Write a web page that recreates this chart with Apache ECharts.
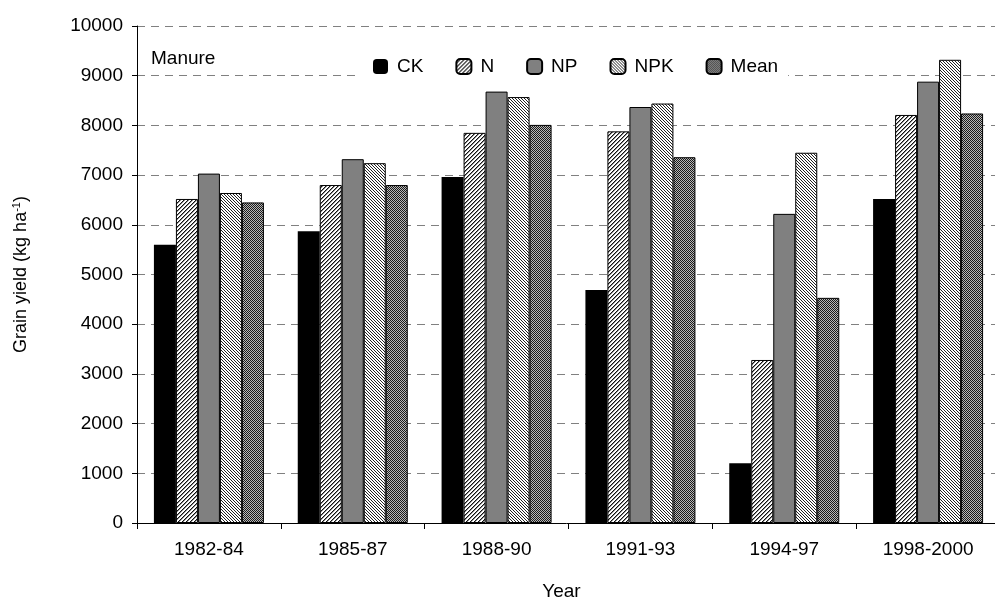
<!DOCTYPE html>
<html><head><meta charset="utf-8">
<script src="https://cdn.jsdelivr.net/npm/echarts@6/dist/echarts.min.js"></script>
<style>html,body{margin:0;padding:0;background:#fff}#c{width:995px;height:600px}</style>
</head><body><div id="c"></div>
<script>
const categories = ['1982-84','1985-87','1988-90','1991-93','1994-97','1998-2000'];
const seriesNames = ['CK','N','NP','NPK','Mean'];
const CK   = [5600, 5870, 6960, 4690, 1200, 6520];
const N    = [6520, 6800, 7850, 7880, 3280, 8210];
const NP   = [7030, 7320, 8680, 8370, 6220, 8880];
const NPK  = [6640, 7240, 8570, 8440, 7450, 9320];
const Mean = [6450, 6800, 8010, 7360, 4530, 8240];
const yTicks = [0,1000,2000,3000,4000,5000,6000,7000,8000,9000,10000];

function tile(size, fn){
  const c = document.createElement('canvas'); c.width = size; c.height = size;
  const g = c.getContext('2d');
  for(let x=0;x<size;x++) for(let y=0;y<size;y++){ g.fillStyle = fn(x,y); g.fillRect(x,y,1,1); }
  return {image: c, repeat: 'repeat'};
}
const patN = tile(4,(x,y)=> (x+y)%4===3 ? '#111' : ((x+y)%4===0 ? '#8a8a8a' : '#fff'));
const patNPK = tile(3,(x,y)=> ((x-y+3)%3===0) ? '#222' : '#fff');
const patMean = tile(2,(x,y)=> ((x+y)%2===0) ? '#1a1a1a' : '#b8b8b8');
const fills = ['#000000', patN, '#808080', patNPK, patMean];
const dataSets = [CK, N, NP, NPK, Mean];
const FONT = 'Liberation Sans, Arial, sans-serif';

const chart = echarts.init(document.getElementById('c'), null, {renderer:'canvas'});
chart.setOption({
  animation: false,
  backgroundColor: '#fff',
  textStyle: {fontFamily: FONT, color:'#000'},
  title: {text: 'Manure', left: 146, top: 44, textStyle:{fontFamily: FONT, fontSize:19, fontWeight:'normal', color:'#000'}},
  legend: {
    data: seriesNames, left: 357, top: 52, orient:'horizontal',
    backgroundColor:'#fff', padding:[5,10,8,16], itemGap: 32,
    itemWidth: 15, itemHeight: 15,
    textStyle:{fontFamily: FONT, fontSize:19, color:'#000', padding:[0,0,0,4]}
  },
  grid: {left: 137, right: -5, top: 26, bottom: 77, containLabel:false, outerBoundsMode:'none'},
  xAxis: {
    type:'category', data: categories,
    name:'Year', nameLocation:'middle', nameGap: 59,
    nameTextStyle:{fontFamily: FONT, fontSize:19, color:'#000', padding:[0,14,0,0]},
    axisLine:{lineStyle:{color:'#000', width:1}},
    axisTick:{show:true, length:6, lineStyle:{color:'#000'}},
    axisLabel:{fontFamily: FONT, fontSize:19, color:'#000', margin:17}
  },
  yAxis: {
    type:'value', min:0, max:10000, interval:1000,
    name:'{a|Grain yield (kg ha}{s|-1}{a|)}', nameLocation:'middle', nameGap: 106,
    nameTextStyle:{rich:{a:{fontFamily: FONT, fontSize:18, color:'#000'}, s:{fontFamily: FONT, fontSize:11, color:'#000', padding:[0,0,9,0]}}},
    axisLine:{show:true, lineStyle:{color:'#000', width:1}},
    axisTick:{show:true, length:5, lineStyle:{color:'#000'}},
    axisLabel:{fontFamily: FONT, fontSize:19, color:'#000', margin:14,
      formatter: v => yTicks.indexOf(v) >= 0 ? String(v) : ''},
    splitLine:{show:true, lineStyle:{color:'#808080', width:1, type:[8,6]}}
  },
  series: seriesNames.map((n,i)=>({
    name:n, type:'bar', data: dataSets[i], barWidth: 22, barGap:'0%',
    itemStyle:{color: fills[i], borderColor:'#000', borderWidth: i===0?0:1},
    emphasis:{disabled:true}
  }))
});
</script></body></html>
